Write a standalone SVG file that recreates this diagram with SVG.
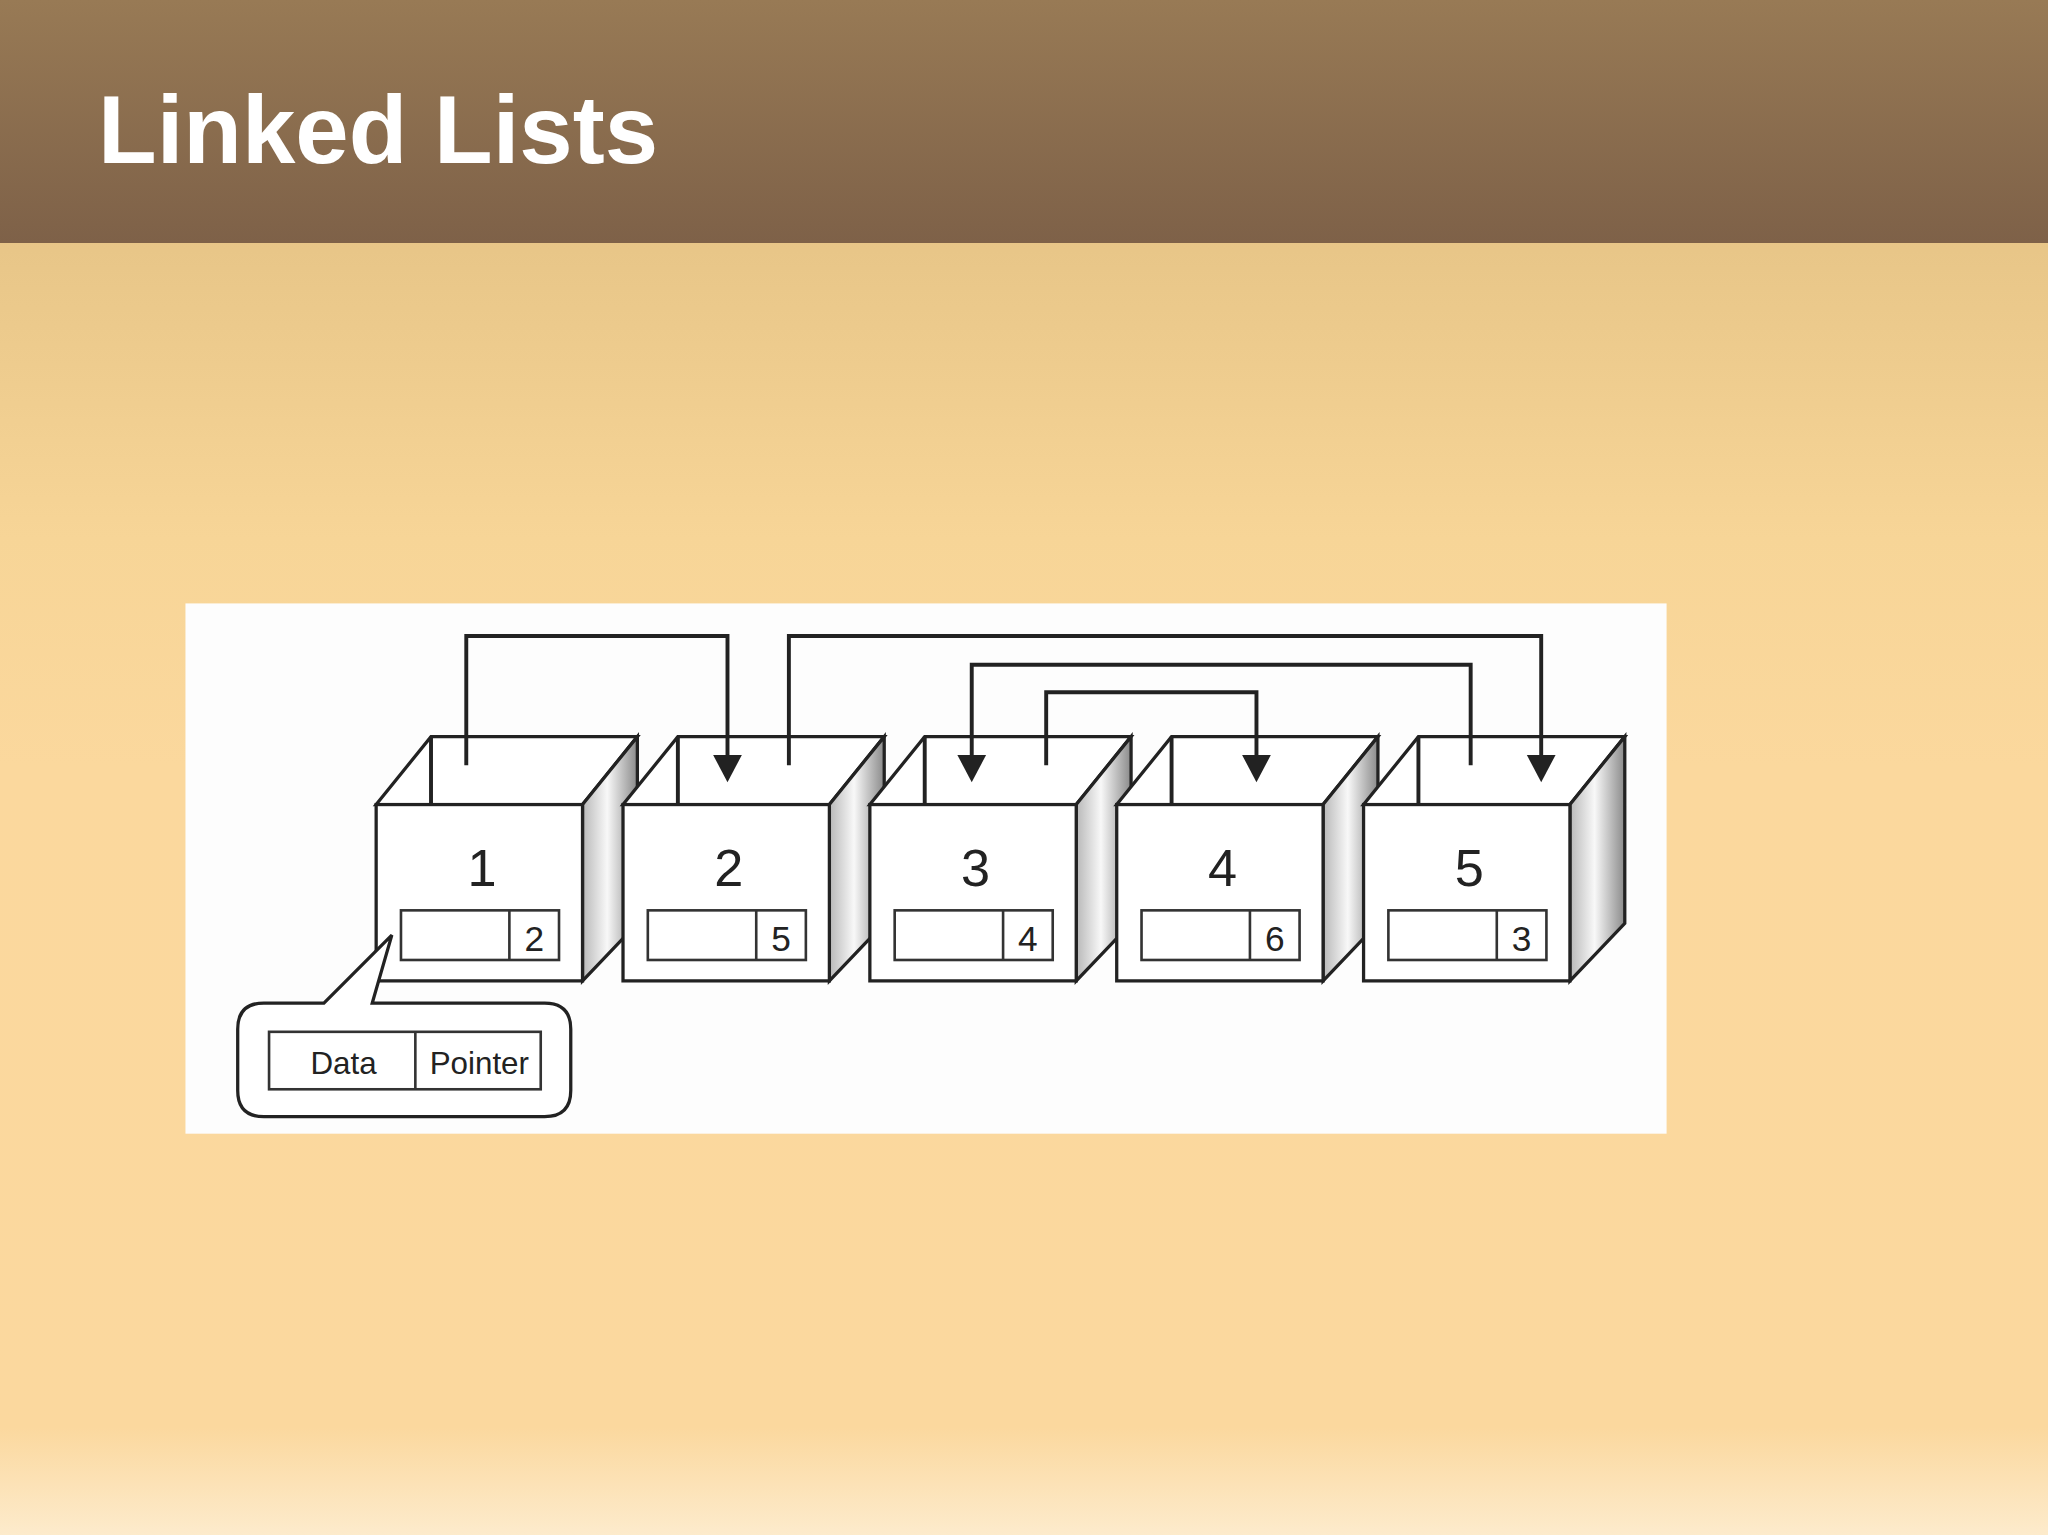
<svg xmlns="http://www.w3.org/2000/svg" width="2048" height="1535" viewBox="0 0 2048 1535">
<defs>
<linearGradient id="hdr" x1="0" y1="0" x2="0" y2="1"><stop offset="0" stop-color="#987a55"/><stop offset="1" stop-color="#7e6148"/></linearGradient>
<linearGradient id="bg" x1="0" y1="0" x2="0" y2="1"><stop offset="0" stop-color="#dbb97b"/><stop offset="0.35" stop-color="#f7d597"/><stop offset="0.5" stop-color="#fbd89d"/><stop offset="0.93" stop-color="#fbd89e"/><stop offset="1" stop-color="#fdebcc"/></linearGradient>
<linearGradient id="side" x1="0" y1="0" x2="1" y2="0"><stop offset="0" stop-color="#b8b8b8"/><stop offset="0.45" stop-color="#f8f8f8"/><stop offset="1" stop-color="#8a8a8a"/></linearGradient>
<style>
.ln{fill:none;stroke:#222;stroke-width:3}
.bx{fill:#fff;stroke:#222;stroke-width:2.5}
.fd{fill:#fff;stroke:#333;stroke-width:2}
.num{font-family:"Liberation Sans",Arial,sans-serif;font-size:40px;fill:#222;text-anchor:middle}
.dig{font-family:"Liberation Sans",Arial,sans-serif;font-size:27px;fill:#222;text-anchor:middle}
.lbl{font-family:"Liberation Sans",Arial,sans-serif;font-size:24px;fill:#222;text-anchor:middle}
.ah{fill:#222}
</style>
<g id="box">
<polygon class="bx" points="0,616 42,564 200,564 158,616"/>
<line class="ln" x1="42" y1="564" x2="42" y2="616" stroke-width="2"/>
<polygon points="158,616 200,564 200,707 158,751" fill="url(#side)" stroke="#222" stroke-width="2.5"/>
<rect class="bx" x="0" y="616" width="158" height="135"/>
<rect class="fd" x="19" y="697" width="121" height="38"/>
<line class="fd" x1="102" y1="697" x2="102" y2="735"/>
</g>
</defs>
<rect width="2048" height="1535" fill="url(#bg)"/>
<rect width="2048" height="243" fill="url(#hdr)"/>
<text x="98" y="163" font-family="'Liberation Sans',Arial,sans-serif" font-size="96" font-weight="bold" fill="#fff">Linked Lists</text>
<g transform="scale(1.3061)">
<rect x="142" y="462" width="1134" height="406" fill="#fdfdfd"/>
<g id="node1" transform="translate(288,0)"><use href="#box"/><text class="num" x="81" y="678">1</text><text class="dig" x="121" y="728">2</text></g>
<g id="node2" transform="translate(477,0)"><use href="#box"/><text class="num" x="81" y="678">2</text><text class="dig" x="121" y="728">5</text></g>
<g id="node3" transform="translate(666,0)"><use href="#box"/><text class="num" x="81" y="678">3</text><text class="dig" x="121" y="728">4</text></g>
<g id="node4" transform="translate(855,0)"><use href="#box"/><text class="num" x="81" y="678">4</text><text class="dig" x="121" y="728">6</text></g>
<g id="node5" transform="translate(1044,0)"><use href="#box"/><text class="num" x="81" y="678">5</text><text class="dig" x="121" y="728">3</text></g>
<g id="connectors">
<polyline class="ln" points="357,586 357,487 557,487 557,580"/>
<polygon class="ah" points="546,578 568,578 557,599"/>
<polyline class="ln" points="604,586 604,487 1180,487 1180,580"/>
<polygon class="ah" points="1169,578 1191,578 1180,599"/>
<polyline class="ln" points="1126,586 1126,509 744,509 744,580"/>
<polygon class="ah" points="733,578 755,578 744,599"/>
<polyline class="ln" points="801,586 801,530 962,530 962,580"/>
<polygon class="ah" points="951,578 973,578 962,599"/>
</g>
<g id="callout">
<path d="M248,768 L300,716 L285,768 L417,768 Q437,768 437,788 L437,835 Q437,855 417,855 L202,855 Q182,855 182,835 L182,788 Q182,768 202,768 Z" fill="#fff" stroke="#222" stroke-width="2.5"/>
<rect class="fd" x="206" y="790" width="208" height="44"/>
<line class="fd" x1="318" y1="790" x2="318" y2="834"/>
<text class="lbl" x="263" y="822">Data</text>
<text class="lbl" x="367" y="822">Pointer</text>
</g>
</g>
</svg>
